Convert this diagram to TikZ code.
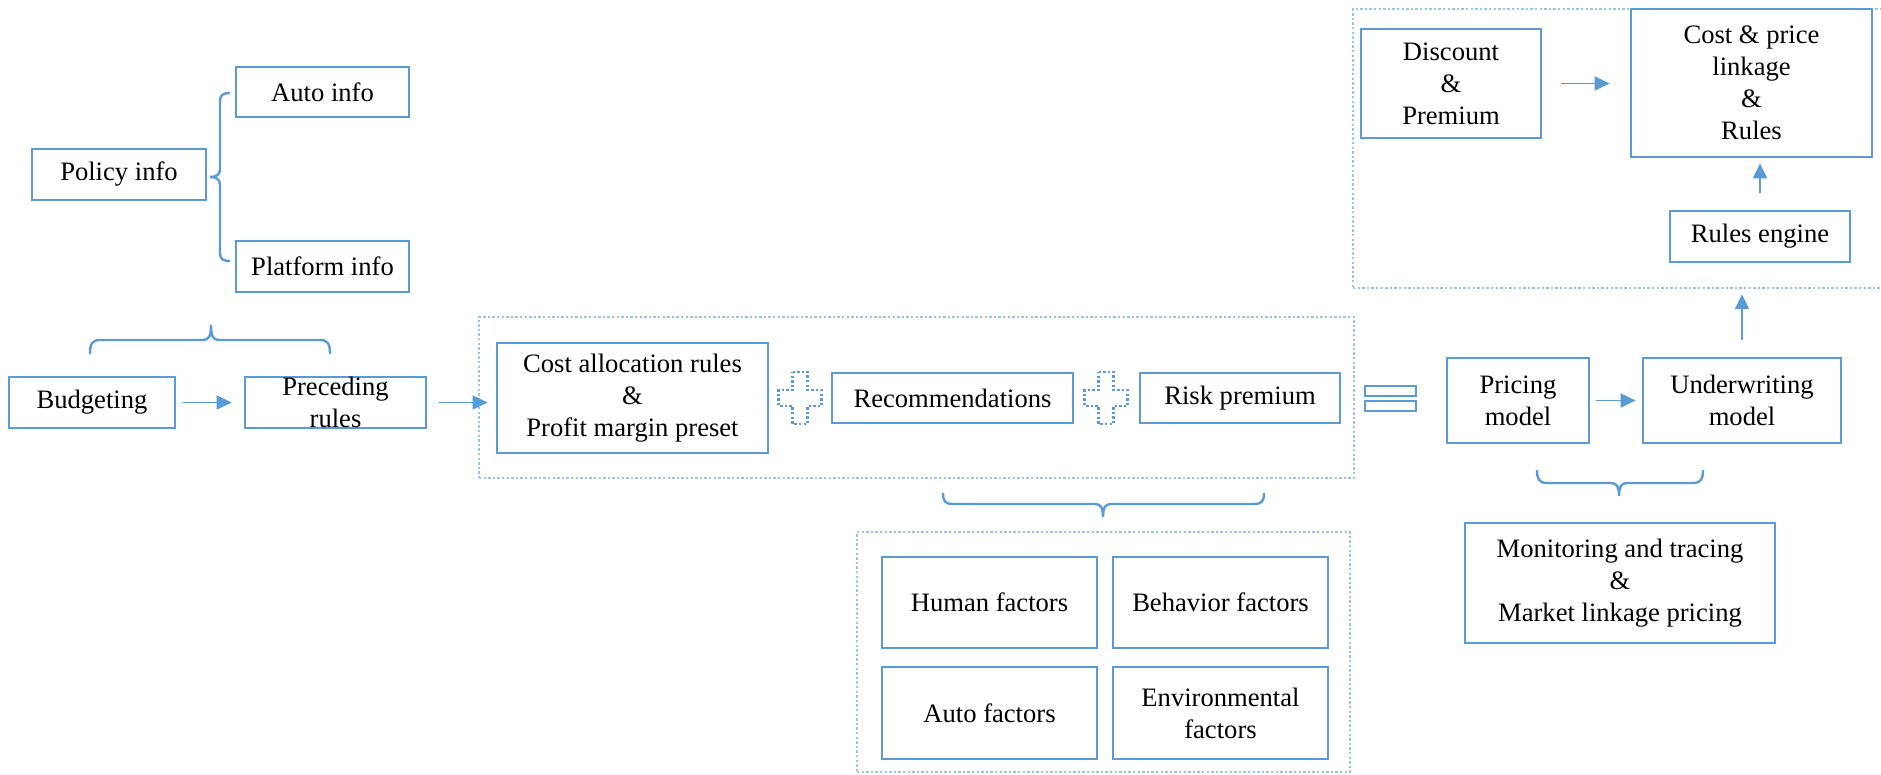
\documentclass[tikz,border=0pt]{standalone}
\usepackage{fontspec}
\setmainfont{Liberation Serif}
\usetikzlibrary{arrows.meta}
\definecolor{boxblue}{HTML}{5B9BD5}
\definecolor{dotblue}{HTML}{9DC3E6}
\tikzset{
  txt/.style={font=\fontsize{26.6}{32}\selectfont, align=center, text=black},
  box/.style={draw=boxblue, line width=2.7pt, inner sep=0pt, txt},
  grpbox/.style={draw=dotblue, line width=2.4pt, dash pattern=on 2.4pt off 2.2pt, inner sep=0pt},
  plussign/.style={draw=boxblue, line width=2.2pt, dash pattern=on 2.4pt off 2.2pt},
  eqbar/.style={draw=boxblue, line width=1.8pt},
  brace/.style={draw=boxblue, line width=2.4pt},
  arr/.style={draw=boxblue, line width=1.9pt, -{Triangle[length=15pt,width=14pt]}}
}
\begin{document}
\begin{tikzpicture}[x=1pt,y=-1pt]
\useasboundingbox (0,0) rectangle (1881,774);

% group boxes
\node[grpbox, minimum width=875, minimum height=161] (grp1) at (916.5,397.5) {};
\node[grpbox, minimum width=530, minimum height=279] (grp2) at (1618,148.5) {};
\node[grpbox, minimum width=493, minimum height=240] (grp3) at (1103.5,652) {};

% left part
\node[box, minimum width=173, minimum height=50] (auto) at (322.5,92) {Auto info};
\node[box, minimum width=174, minimum height=51] (policy) at (119,174.5) {Policy info};
\node[box, minimum width=173, minimum height=51] (platform) at (322.5,266.5) {Platform info};
\node[box, minimum width=166, minimum height=51] (budget) at (92,402.5) {Budgeting};
\node[box, minimum width=181, minimum height=51] (prec) at (335.5,402.5) {};
\node[txt] (prectxt) at (prec) {Preceding\\rules};

% middle group
\node[box, minimum width=271, minimum height=110] (cost) at (632.5,398) {Cost allocation rules\\\&\\Profit margin preset};
\node[box, minimum width=241, minimum height=50] (recom) at (952.5,398) {Recommendations};
\node[box, minimum width=200, minimum height=50] (risk) at (1240,398) {Risk premium};

% factors
\node[box, minimum width=215, minimum height=91] (human) at (989.5,602.5) {Human factors};
\node[box, minimum width=215, minimum height=91] (behav) at (1220.5,602.5) {Behavior factors};
\node[box, minimum width=215, minimum height=92] (autof) at (989.5,713) {Auto factors};
\node[box, minimum width=215, minimum height=92] (env) at (1220.5,713) {Environmental\\factors};

% right part
\node[box, minimum width=142, minimum height=85] (pricing) at (1518,400.5) {Pricing\\model};
\node[box, minimum width=198, minimum height=85] (under) at (1742,400.5) {Underwriting\\model};
\node[box, minimum width=310, minimum height=120] (monitor) at (1620,583) {Monitoring and tracing\\\&\\Market linkage pricing};
\node[box, minimum width=180, minimum height=109] (disc) at (1451,83.5) {Discount\\\&\\Premium};
\node[box, minimum width=241, minimum height=148] (cp) at (1751.5,83) {Cost \& price\\linkage\\\&\\Rules};
\node[box, minimum width=180, minimum height=51] (rules) at (1760,236.5) {Rules engine};

% plus signs
\foreach \cx in {800,1106}{
  \draw[plussign, shift={(\cx,398)}] (-7.5,-26) -- (7.5,-26) -- (7.5,-8) -- (21.5,-8) -- (21.5,8) -- (7.5,8) -- (7.5,26) -- (-7.5,26) -- (-7.5,8) -- (-21.5,8) -- (-21.5,-8) -- (-7.5,-8) -- cycle;
}

% equals sign
\draw[eqbar] (1365,386) rectangle (1416,396);
\draw[eqbar] (1365,401) rectangle (1416,411);

% braces
\draw[brace] (230,93) .. controls (223,93) and (220,95) .. (220,101) -- (220,169) .. controls (220,175) and (216,177) .. (210,177) .. controls (216,177) and (220,179) .. (220,185) -- (220,253) .. controls (220,259) and (223,261) .. (230,261);
\draw[brace] (90,354) .. controls (90,344) and (92,340) .. (100,340) -- (203,340) .. controls (209,340) and (211,336) .. (211,325) .. controls (211,336) and (213,340) .. (219,340) -- (320,340) .. controls (328,340) and (330,344) .. (330,354);
\draw[brace] (943,493) .. controls (943,501) and (945,504) .. (953,504) -- (1095,504) .. controls (1101,504) and (1103,508) .. (1103,517) .. controls (1103,508) and (1105,504) .. (1111,504) -- (1254,504) .. controls (1262,504) and (1264,501) .. (1264,493);
\draw[brace] (1537,470) .. controls (1537,479) and (1539,483) .. (1547,483) -- (1611,483) .. controls (1617,483) and (1619,487) .. (1619,496) .. controls (1619,487) and (1621,483) .. (1627,483) -- (1693,483) .. controls (1701,483) and (1703,479) .. (1703,470);

% arrows
\draw[arr, shorten <=7pt, shorten >=12pt] (budget) -- (prec);
\draw[arr, shorten <=12pt, shorten >=8pt] (prec.east) -- (prec.east -| cost.west);
\draw[arr, shorten <=6pt, shorten >=6pt] (pricing) -- (under);
\draw[arr, shorten <=17pt, shorten >=5pt] (under.north) -- (under.north |- grp2.south);
\draw[arr, shorten <=17pt, shorten >=5pt] (rules.north) -- (rules.north |- cp.south);
\draw[arr, shorten <=19pt, shorten >=20pt] (disc.east) -- (disc.east -| cp.west);
\end{tikzpicture}
\end{document}
